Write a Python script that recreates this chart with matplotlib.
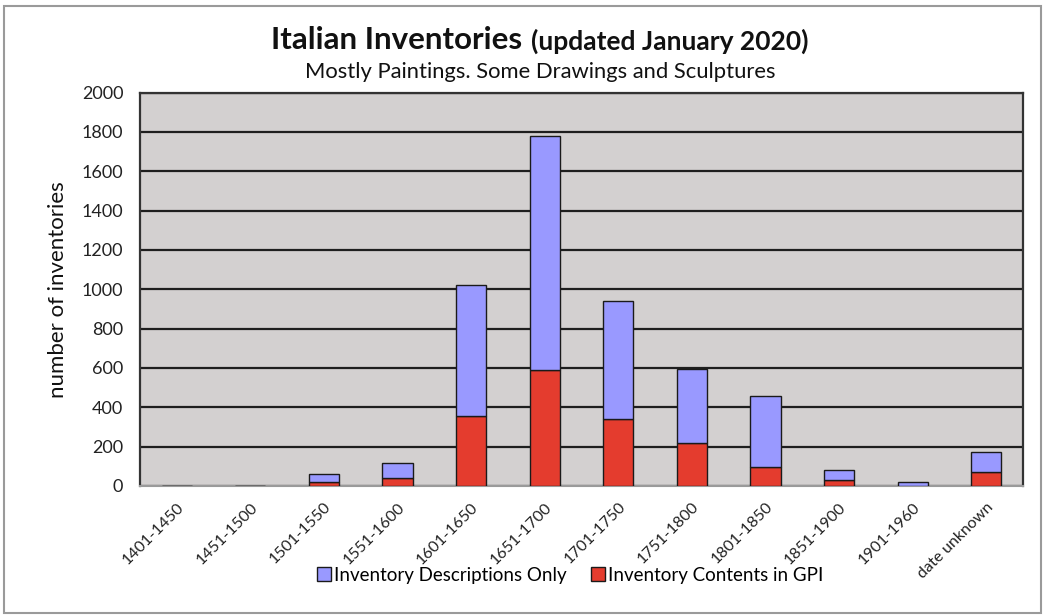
import matplotlib
matplotlib.use("Agg")
import matplotlib.pyplot as plt
from matplotlib.patches import Rectangle, Patch
import numpy as np

categories = ["1401-1450", "1451-1500", "1501-1550", "1551-1600", "1601-1650",
              "1651-1700", "1701-1750", "1751-1800", "1801-1850", "1851-1900",
              "1901-1960", "date unknown"]
contents_gpi = [0, 0, 22, 39, 357, 590, 342, 217, 98, 30, 2, 69]
totals = [2, 2, 61, 115, 1022, 1780, 940, 595, 459, 81, 18, 174]
descriptions_only = [t - c for t, c in zip(totals, contents_gpi)]
yticks = [0, 200, 400, 600, 800, 1000, 1200, 1400, 1600, 1800, 2000]

FONT = ["Lato", "DejaVu Sans"]
plt.rcParams["font.family"] = FONT

W, H = 1045, 615
fig = plt.figure(figsize=(W / 100, H / 100), dpi=100)
fig.patch.set_facecolor("white")

# outer border
fig.add_artist(Rectangle((0.004, 0.004), 0.992, 0.986, transform=fig.transFigure,
                         fill=False, edgecolor="#9a9a9a", linewidth=1.5))

ax = fig.add_axes([140 / W, 1 - 486 / H, (1023 - 140) / W, (486 - 92.5) / H])
ax.set_facecolor("#d3d0d0")

x = np.arange(len(categories))
bw = 0.41
ax.bar(x, contents_gpi, bw, color="#e43c2e", edgecolor="#1a1a1a", linewidth=1.0,
       label="Inventory Contents in GPI", zorder=3)
ax.bar(x, descriptions_only, bw, bottom=contents_gpi, color="#9999ff",
       edgecolor="#1a1a1a", linewidth=1.0, label="Inventory Descriptions Only", zorder=3)

ax.set_xlim(-0.5, len(categories) - 0.5)
ax.set_ylim(0, 2000)
ax.set_yticks(yticks)
ax.set_yticklabels([str(v) for v in yticks], fontsize=13, color="#222222")
ax.yaxis.grid(True, color="#1e1e1e", linewidth=1.6, zorder=1)
ax.set_axisbelow(True)
ax.tick_params(axis="y", length=0, pad=12)
ax.set_xticks(x)
ax.set_xticklabels(categories, rotation=45, ha="right", rotation_mode="anchor",
                   fontsize=11.5, color="#222222")
ax.tick_params(axis="x", length=0, pad=10)
for side in ["left", "top", "right"]:
    ax.spines[side].set_color("#333333")
    ax.spines[side].set_linewidth(1.6)
ax.spines["bottom"].set_color("#9a9a9a")
ax.spines["bottom"].set_linewidth(1.5)

ax.set_ylabel("number of inventories", fontsize=16, color="#111111", labelpad=10)

# legend
handles = [Patch(facecolor="#9999ff", edgecolor="#1a1a1a", label="Inventory Descriptions Only"),
           Patch(facecolor="#e43c2e", edgecolor="#1a1a1a", label="Inventory Contents in GPI")]
fig.legend(handles=handles, loc="center", bbox_to_anchor=(570 / W, 1 - 575 / H), ncol=2,
           frameon=False, fontsize=13.5, handlelength=0.75, handleheight=0.75,
           handletextpad=0.15, columnspacing=1.3)

# title with mixed sizes
fig.canvas.draw()
r = fig.canvas.get_renderer()
t1 = fig.text(0, 1 - 40 / H, "Italian Inventories", fontsize=22.5, fontweight="bold",
              ha="left", va="center", color="#111111")
t2 = fig.text(0, 1 - 40 / H, "(updated January 2020)", fontsize=19, fontweight="bold",
              ha="left", va="center", color="#111111")
w1 = t1.get_window_extent(r).width
w2 = t2.get_window_extent(r).width
gap = 9
total = w1 + gap + w2
start = 540 - total / 2
t1.set_x(start / W)
t2.set_x((start + w1 + gap) / W)
t2.set_y(1 - 41 / H)

fig.text(540 / W, 1 - 72 / H, "Mostly Paintings. Some Drawings and Sculptures",
         fontsize=15.8, ha="center", va="center", color="#111111")

fig.savefig("out.png", dpi=100)
